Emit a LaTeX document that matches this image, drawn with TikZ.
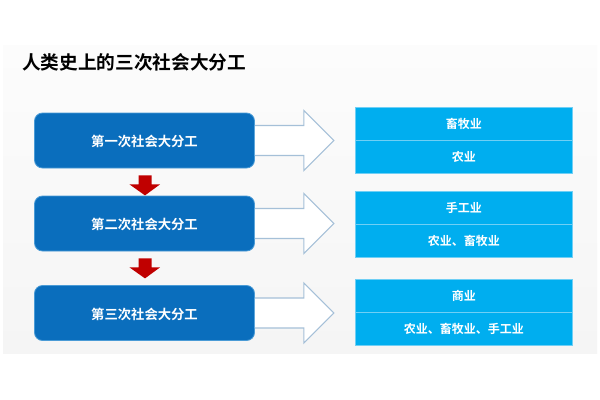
\documentclass[tikz,border=0pt]{standalone}
\usepackage{fontspec}
\setmainfont{Noto Sans CJK SC}[BoldFont={Noto Sans CJK SC Bold}]
\usetikzlibrary{calc}
\definecolor{mainblue}{HTML}{0A6EBD}
\definecolor{mainedge}{HTML}{4A9BD6}
\definecolor{skyblue}{HTML}{00AEEF}
\definecolor{skyedge}{HTML}{6FCFF5}
\definecolor{hollowedge}{HTML}{A5C0D8}
\definecolor{downred}{HTML}{C00000}
\definecolor{paneltop}{HTML}{FCFCFC}
\definecolor{panelbottom}{HTML}{F5F5F5}
\newcommand{\lowtext}[1]{\raisebox{0pt}[9.4pt][0pt]{#1}}
\tikzset{
  x=0.75pt,y=-0.75pt,
  mainbox/.style={draw=mainedge,line width=0.6pt,fill=mainblue,rounded corners=6pt,minimum width=165pt,minimum height=41.25pt,inner sep=0pt,text=white,font=\bfseries\fontsize{10}{12}\selectfont},
  skybox/.style={draw=skyedge,line width=0.6pt,fill=skyblue,minimum width=162.75pt,minimum height=24.75pt,inner sep=0pt,text=white,font=\bfseries\fontsize{9}{11}\selectfont},
  hollowarrow/.style={draw=hollowedge,line width=0.8pt,fill=white,line join=miter},
  downarrow/.style={fill=downred,draw=none},
  titletext/.style={anchor=west,inner sep=0pt,text=black,font=\bfseries\fontsize{14}{16}\selectfont}
}
\newcommand{\hollowfrom}[1]{%
  \draw[hollowarrow] ($(#1.east)+(0,-15)$) -- ++(49,0) -- ++(0,-15) -- ++(30,30) -- ++(-30,30) -- ++(0,-15) -- ++(-49,0);}
\newcommand{\downfrom}[1]{%
  \fill[downarrow] ($(#1.south)+(-6,7)$) -- ++(13,0) -- ++(0,9) -- ++(8.5,0) -- ++(-15,11) -- ++(-15.5,-11) -- ++(9,0) -- cycle;}
\begin{document}
\begin{tikzpicture}
\useasboundingbox (0,0) rectangle (600,400);
\fill[white] (0,0) rectangle (600,400);
\shade[top color=paneltop,bottom color=panelbottom,draw=none] (3,45) rectangle (597,353);
\node[titletext] (title) at (22,62) {人类史上的三次社会大分工};
\node[mainbox] (m1) at (144.5,140.5) {\lowtext{第一次社会大分工}};
\node[mainbox] (m2) at (144.5,223.5) {\lowtext{第二次社会大分工}};
\node[mainbox] (m3) at (144.5,313) {\lowtext{第三次社会大分工}};
\hollowfrom{m1}
\hollowfrom{m2}
\hollowfrom{m3}
\downfrom{m1}
\downfrom{m2}
\node[skybox] (a1) at (463.8,123.5) {畜牧业};
\node[skybox] (a2) at (463.8,156.5) {农业};
\node[skybox] (b1) at (463.8,208) {手工业};
\node[skybox] (b2) at (463.8,241) {农业、畜牧业};
\node[skybox] (c1) at (463.8,295.5) {商业};
\node[skybox] (c2) at (463.8,328.5) {农业、畜牧业、手工业};
\end{tikzpicture}
\end{document}
